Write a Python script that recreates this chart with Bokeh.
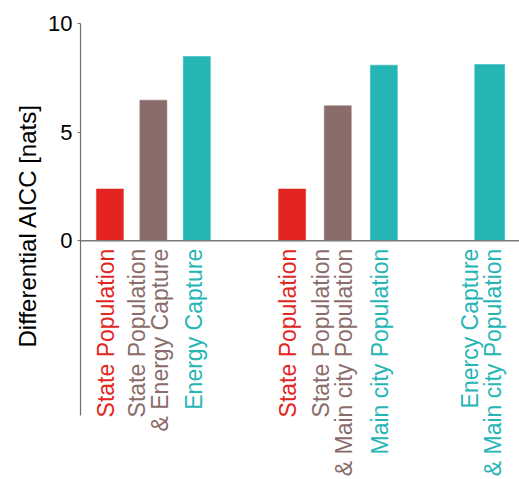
import math
from bokeh.plotting import figure
from bokeh.models import ColumnDataSource, Range1d, FixedTicker, Span, Title
from bokeh.core.properties import value
from bokeh.embed import file_html
from bokeh.resources import INLINE

# ---- data ----
categories = [
    "State Population",
    "State Population\n& Energy Capture",
    "Energy Capture",
    "State Population",
    "State Population\n& Main city Population",
    "Main city Population",
    "Enercy Capture\n& Main city Population",
]
values = [2.38, 6.47, 8.48, 2.38, 6.21, 8.08, 8.11]
kinds = ["state", "combo", "other", "state", "combo", "other", "other"]
y_ticks = [0, 5, 10]
y_label = "Differential AICC [nats]"

# ---- layout / style ----
slot = [0.67, 1.66, 2.65, 4.82, 5.86, 6.91, 9.32]
bar_w = [0.615, 0.615, 0.615, 0.615, 0.615, 0.615, 0.68]
label_dx = [-4, -5, -3, -4, -5, -4, -8]
palette = {"state": "#E32421", "combo": "#8A6C6A", "other": "#26B5B5"}
colors = [palette[k] for k in kinds]
FONT = "Liberation Sans"

src = ColumnDataSource(dict(x=slot, top=values, w=bar_w, color=colors,
                            label=categories, dx=label_dx,
                            y0=[0] * len(values)))

p = figure(width=519, height=479, output_backend="svg", toolbar_location=None,
           x_range=Range1d(0, 10), y_range=Range1d(-11.0, 10),
           min_border_left=80, min_border_right=0, min_border_top=23,
           min_border_bottom=0, x_axis_location=None)
p.outline_line_color = None
p.xgrid.visible = False
p.ygrid.visible = False
p.background_fill_color = "white"
p.border_fill_color = "white"

p.vbar(x="x", top="top", bottom=0, width="w", source=src,
       fill_color="color", line_color="color", line_width=0.5)

p.add_layout(Span(location=0, dimension="width", line_color="#7a7a7a",
                  line_width=1.5))

p.text(x="x", y="y0", text="label", source=src, angle=math.pi / 2,
       text_align="right", text_baseline="middle", text_color="color",
       text_font=value(FONT), text_font_size="23px", text_line_height=0.9,
       x_offset="dx", y_offset=8)

ax = p.yaxis[0]
ax.ticker = FixedTicker(ticks=y_ticks)
ax.bounds = (-8.06, 10)
ax.major_label_text_font = FONT
ax.major_label_text_font_size = "22px"
ax.major_label_text_color = "black"
ax.major_label_standoff = 5
ax.axis_line_color = "#6e6e6e"
ax.axis_line_width = 1.2
ax.major_tick_line_color = "#6e6e6e"
ax.major_tick_out = 3
ax.major_tick_in = 0
ax.minor_tick_line_color = None

p.add_layout(Title(text=y_label, align="left", offset=132, standoff=10,
                   text_font=FONT, text_font_size="24px",
                   text_font_style="normal", text_color="black"), "left")

open("out.html", "w").write(file_html(p, INLINE))
